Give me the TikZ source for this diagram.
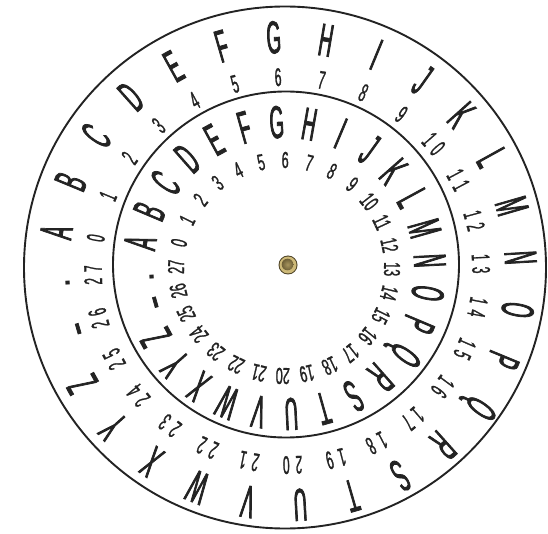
\documentclass[tikz,border=0pt]{standalone}
\usepackage{fontspec}
\newfontfamily\wheelfont[FakeStretch=0.4,FakeBold=1.6]{Liberation Sans}
\newfontfamily\numfont[FakeStretch=0.47,FakeBold=1]{Liberation Sans}
\newfontfamily\inumfont[FakeStretch=0.55,FakeBold=1]{Liberation Sans}
\newfontfamily\dotfont{Liberation Sans}
\definecolor{ink}{RGB}{35,35,35}
\definecolor{brass}{RGB}{205,185,120}
\definecolor{brassdark}{RGB}{110,95,55}
\tikzset{
  ring/.style={draw=ink, line width=1.9pt},
  letter/.style={inner sep=0pt, text=ink, font=\wheelfont\fontsize{46}{46}\selectfont},
  marks/.style={inner sep=0pt, anchor=base, text=ink, font=\wheelfont\fontsize{46}{46}\selectfont},
  dotmark/.style={inner sep=0pt, anchor=base, text=ink, font=\dotfont\fontsize{40}{40}\selectfont},
  onum/.style={inner sep=0pt, text=ink, font=\numfont\fontsize{25.5}{25.5}\selectfont},
  inum/.style={inner sep=0pt, text=ink, font=\inumfont\fontsize{23}{23}\selectfont},
}
\begin{document}
\begin{tikzpicture}[x=1pt,y=1pt]
\useasboundingbox (0,0) rectangle (548,533);
\fill[white] (0,0) rectangle (548,533);
\coordinate (oc) at (287,262);   % centre of the outer texts
\coordinate (ic) at (284,265);   % centre of the inner texts
\coordinate (ocirc) at (285,265.5);
\coordinate (icirc) at (286,268.5);
\draw[ring] (ocirc) circle (261);
\draw[ring] (icirc) circle (173);
% outer letters
\foreach \t [count=\i from 0] in {A,B,C,D,E,F,G,H,I,J,K,L,M,N,O,P,Q,R,S,T,U,V,W,X,Y,Z}{
  \pgfmathsetmacro\a{170.4-12.857*\i}
  \node[letter, rotate=\a-90] (o\i) at ([shift={(\a:234)}]oc) {\t};
}
\node[marks, rotate=196.1-90] (o26) at ([shift={(195.4:205)}]oc) {–};
\node[dotmark, rotate=183.3-90] (o27) at ([shift={(183.2:217.5)}]oc) {.};
% inner letters
\foreach \t [count=\i from 0] in {A,B,C,D,E,F,G,H,I,J,K,L,M,N,O,P,Q,R,S,T,U,V,W,X,Y,Z}{
  \pgfmathsetmacro\a{170-12.857*\i}
  \node[letter, rotate=\a-90] (i\i) at ([shift={(\a:146)}]ic) {\t};
}
\node[marks, rotate=195.7-90] (i26) at ([shift={(194.8:121.5)}]ic) {–};
\node[dotmark, rotate=183.3-90] (i27) at ([shift={(183.9:130)}]ic) {.};
% outer numbers
\foreach \i in {0,...,27}{
  \pgfmathsetmacro\a{170.2-12.857*\i-0.07*\i}
  \ifnum\i>9
    \pgfmathtruncatemacro\tens{\i/10}
    \pgfmathtruncatemacro\ones{\i-10*\tens}
    \node[onum, rotate=\a-90] (on\i) at ([shift={(\a:194)}]oc) {\tens\kern6pt\ones};
  \else
    \node[onum, rotate=\a-90] (on\i) at ([shift={(\a:194)}]oc) {\i};
  \fi
}
% inner numbers
\foreach \i in {0,...,27}{
  \pgfmathsetmacro\a{166.5-12.857*\i}
  \node[inum, rotate=\a-90] (in\i) at ([shift={(\a:108)}]ic) {\i};
}
% rivet
\fill[brassdark!70!black] (288,268) circle (9.5);
\fill[brass] (288,268) circle (8.5);
\shade[inner color=brass!60!brassdark, outer color=brassdark] (287.5,268.5) circle (5.8);
\end{tikzpicture}
\end{document}
